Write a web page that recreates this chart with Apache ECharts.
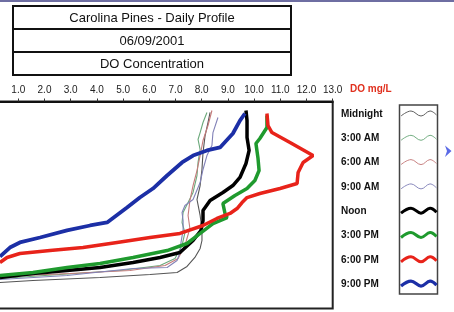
<!DOCTYPE html>
<html>
<head>
<meta charset="utf-8">
<script src="https://cdn.jsdelivr.net/npm/echarts@6/dist/echarts.min.js"></script>
<style>
html,body{margin:0;padding:0;background:#fff;}
#chart{width:454px;height:312px;}
</style>
</head>
<body>
<div id="chart"></div>
<script>
// ---- data (DO mg/L, depth units; depth 0 = surface at top) ----
var titleLines = ['Carolina Pines - Daily Profile', '06/09/2001', 'DO Concentration'];
var axisName = 'DO mg/L';
var seriesNames = ['Midnight', '3:00 AM', '6:00 AM', '9:00 AM', 'Noon', '3:00 PM', '6:00 PM', '9:00 PM'];

var midnight = [[8.32,1.06],[8.24,2.03],[8.13,3.29],[8.05,4.93],[8.01,6.57],[7.94,8.12],[7.82,9.47],[7.94,11.01],[8.01,12.37],[8.01,13.43],[7.94,14.20],[7.74,15.07],[7.44,15.94],[7.06,16.52],[6.03,16.71],[4.12,17.00],[1.56,17.29],[0.30,17.49]];
var am3 = [[8.20,1.06],[8.05,2.03],[7.94,3.00],[7.86,3.67],[7.94,4.64],[7.86,5.89],[7.82,7.15],[7.67,8.79],[7.48,9.76],[7.29,10.72],[7.25,11.69],[7.36,12.66],[7.25,13.91],[6.98,15.17],[6.41,15.85],[4.88,16.33],[2.59,16.71],[0.30,17.10]];
var am6 = [[8.39,0.87],[8.24,2.32],[8.05,3.77],[7.94,5.22],[7.82,6.67],[7.67,8.12],[7.55,9.57],[7.48,11.01],[7.55,12.27],[7.36,13.91],[7.10,15.17],[6.60,15.85],[5.26,16.33],[2.97,16.62],[0.30,16.91]];
var am9 = [[8.62,1.55],[8.43,3.00],[8.39,4.25],[8.20,5.22],[8.05,6.57],[7.94,7.83],[7.67,9.47],[7.36,10.05],[7.25,10.72],[7.29,11.50],[7.29,12.46],[7.21,13.62],[7.17,14.59],[7.06,15.36],[6.68,16.04],[5.38,16.14],[2.86,16.81],[0.30,17.20]];
var noon = [[9.69,0.87],[9.73,1.84],[9.73,3.48],[9.81,4.73],[9.69,5.99],[9.46,7.34],[9.19,8.12],[8.81,8.79],[8.32,9.57],[8.05,10.53],[8.05,11.50],[7.97,12.46],[7.67,13.43],[7.17,14.59],[6.41,15.07],[5.38,15.56],[4.12,16.04],[2.86,16.33],[1.56,16.62],[0.30,17.00]];
var pm3 = [[10.49,1.35],[10.49,2.51],[10.22,3.57],[10.07,4.06],[10.15,5.51],[10.19,6.67],[10.03,7.63],[9.73,8.41],[9.27,9.08],[8.81,9.86],[8.89,10.82],[8.97,11.21],[8.43,11.79],[7.94,12.75],[7.44,13.72],[6.68,14.40],[5.38,15.07],[4.12,15.65],[2.86,16.04],[1.56,16.52],[0.30,16.81]];
var pm6 = [[10.49,1.16],[10.53,2.32],[10.68,3.00],[11.37,3.96],[12.25,5.22],[11.87,5.89],[11.68,6.86],[11.64,7.92],[10.99,8.41],[10.22,8.89],[9.73,9.28],[9.54,9.76],[9.35,10.34],[9.08,10.82],[8.58,11.30],[8.05,11.98],[7.17,12.75],[6.03,13.14],[4.77,13.62],[3.47,14.11],[2.21,14.40],[1.06,14.69],[0.57,15.07],[0.30,15.56]];
var pm9 = [[9.65,1.16],[9.46,1.84],[9.19,3.09],[8.70,4.44],[8.20,4.73],[7.67,5.22],[7.25,5.89],[6.68,7.15],[6.14,8.41],[5.64,9.28],[5.15,10.24],[4.39,11.69],[3.74,11.98],[2.86,12.46],[1.83,13.14],[1.06,13.62],[0.68,14.11],[0.30,14.98]];

var seriesData = [midnight, am3, am6, am9, noon, pm3, pm6, pm9];
var xMin = 0, xMax = 13, xStep = 1;
var depthMin = 0, depthMax = 20;

// ---- styles ----
var colors = ['#555555', '#6aa87a', '#c47a7a', '#8282b8', '#000000', '#1f9a2e', '#e8231a', '#1c2fa6'];
var widths = [1.1, 1.1, 1.1, 1.1, 3.5, 3.5, 3.5, 3.8];

var chart = echarts.init(document.getElementById('chart'), null, {renderer: 'canvas'});

var series = seriesData.map(function (d, i) {
  return {
    name: seriesNames[i],
    type: 'line',
    data: d,
    showSymbol: false,
    symbol: 'none',
    lineStyle: {color: colors[i], width: widths[i]},
    itemStyle: {color: colors[i]},
    animation: false,
    silent: true
  };
});

var graphics = [];
// top strip
graphics.push({type: 'rect', shape: {x: 0, y: 0, width: 454, height: 2}, style: {fill: '#6e6ea2'}, silent: true});
// title box
var boxX = 13, boxY = 6, boxW = 278, rowH = 23;
graphics.push({type: 'rect', shape: {x: boxX, y: boxY, width: boxW, height: rowH * 3}, style: {fill: '#fff', stroke: '#111', lineWidth: 2}, silent: true});
for (var r = 1; r < 3; r++) {
  graphics.push({type: 'line', shape: {x1: boxX, y1: boxY + rowH * r, x2: boxX + boxW, y2: boxY + rowH * r}, style: {stroke: '#111', lineWidth: 2}, silent: true});
}
titleLines.forEach(function (t, i) {
  graphics.push({type: 'text', x: boxX + boxW / 2, y: boxY + rowH * i + rowH / 2 + 0.5,
    style: {text: t, fill: '#111', font: '13px "Liberation Sans", Arial, sans-serif', textAlign: 'center', textVerticalAlign: 'middle'}, silent: true});
});
// axis unit
graphics.push({type: 'text', x: 350, y: 89, style: {text: axisName, fill: '#e0301e', font: 'bold 10px "Liberation Sans", Arial, sans-serif', textAlign: 'left', textVerticalAlign: 'middle'}, silent: true});
// legend box
var lgX = 399.5, lgY = 105, lgW = 38, lgH = 189;
graphics.push({type: 'rect', shape: {x: lgX, y: lgY, width: lgW, height: lgH}, style: {fill: '#fff', stroke: '#444', lineWidth: 1.5}, silent: true});
seriesNames.forEach(function (n, i) {
  var cy = 114 + i * 24.3;
  graphics.push({type: 'text', x: 341, y: cy, style: {text: n, fill: '#111', font: 'bold 10px "Liberation Sans", Arial, sans-serif', textAlign: 'left', textVerticalAlign: 'middle'}, silent: true});
  graphics.push({type: 'polyline', shape: {points: [[401, cy + 2], [411, cy - 3], [421, cy + 2], [430, cy - 3], [436.5, cy + 1]], smooth: 0.4},
    style: {stroke: colors[i], lineWidth: widths[i] * 0.85, fill: null}, silent: true});
});
// small arrow at right
graphics.push({type: 'polygon', shape: {points: [[445, 145.5], [451.5, 151], [445, 157], [447, 151]]}, style: {fill: '#5a6ae6'}, silent: true});

chart.setOption({
  animation: false,
  backgroundColor: '#fff',
  grid: {left: -7.9, right: 121.3, top: 101.5, bottom: 3.5, show: true, borderColor: '#222', borderWidth: 2, backgroundColor: 'transparent',
    containLabel: false, outerBoundsMode: 'none'},
  xAxis: {
    type: 'value', position: 'top', min: xMin, max: xMax, interval: xStep,
    axisLine: {show: true, lineStyle: {color: '#111', width: 2}},
    axisTick: {show: true, length: 3, lineStyle: {color: '#333', width: 1}},
    axisLabel: {show: true, margin: 6, color: '#222', fontSize: 10, fontFamily: '"Liberation Sans", Arial, sans-serif',
      formatter: function (v) { return v.toFixed(1); }},
    splitLine: {show: false}
  },
  yAxis: {
    type: 'value', inverse: true, min: depthMin, max: depthMax,
    axisLine: {show: false}, axisTick: {show: false}, axisLabel: {show: false}, splitLine: {show: false}
  },
  series: series,
  graphic: graphics
});
</script>
</body>
</html>
